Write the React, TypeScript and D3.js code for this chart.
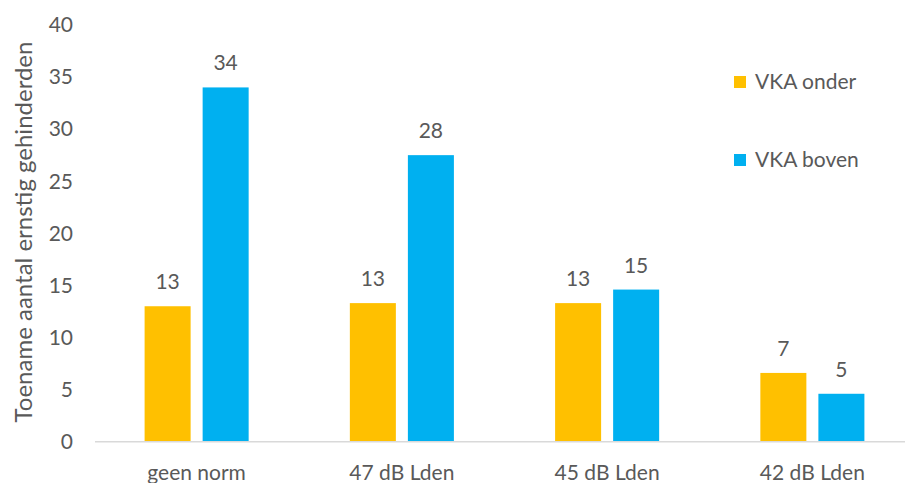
import React from "react";
import * as d3 from "d3";

const categories = ["geen norm", "47 dB Lden", "45 dB Lden", "42 dB Lden"];
const seriesNames = ["VKA onder", "VKA boven"];
const vkaOnder = [13.0, 13.3, 13.3, 6.6];
const vkaBoven = [34.0, 27.5, 14.6, 4.6];
const labelsOnder = ["13", "13", "13", "7"];
const labelsBoven = ["34", "28", "15", "5"];
const yTicks = [0, 5, 10, 15, 20, 25, 30, 35, 40];
const colors = ["#FFC000", "#00B0F0"];

const W = 905;
const H = 483;
const FONT = "Lato, 'Open Sans', sans-serif";
const TEXT = "#595959";

export default function App() {
  const x = d3.scaleBand<string>().domain(categories).range([94, 915]).paddingInner(0).paddingOuter(0);
  const y = d3.scaleLinear().domain([0, 40]).range([441.7, 24.9]);
  const inner = d3.scaleBand<string>().domain(seriesNames).range([0, x.bandwidth()]).paddingInner(0.207).paddingOuter(0.872);

  const series = [
    { name: seriesNames[0], values: vkaOnder, labels: labelsOnder, color: colors[0] },
    { name: seriesNames[1], values: vkaBoven, labels: labelsBoven, color: colors[1] },
  ];

  return (
    <svg width={W} height={H} style={{ position: "absolute", left: 0, top: 0, background: "#fff" }} fontFamily={FONT}>
      {/* y axis title */}
      <text
        transform={`translate(32, 232) rotate(-90)`}
        textAnchor="middle"
        fontSize={24}
        fill={TEXT}
      >
        Toename aantal ernstig gehinderden
      </text>
      {/* y tick labels */}
      {yTicks.map((t) => (
        <text key={t} x={73} y={y(t)} dy="0.35em" textAnchor="end" fontSize={21} fill={TEXT}>
          {t}
        </text>
      ))}
      {/* bars */}
      {series.map((s) =>
        categories.map((c, i) => {
          const bx = (x(c) as number) + (inner(s.name) as number);
          const by = y(s.values[i]);
          return (
            <g key={s.name + c}>
              <rect x={bx} y={by} width={inner.bandwidth()} height={y(0) - by} fill={s.color} />
              <text x={bx + inner.bandwidth() / 2} y={by - 17} textAnchor="middle" fontSize={21} fill={TEXT}>
                {s.labels[i]}
              </text>
            </g>
          );
        })
      )}
      {/* x axis line */}
      <line x1={95} x2={905} y1={y(0)} y2={y(0)} stroke="#D9D9D9" strokeWidth={1.5} />
      {/* category labels */}
      {categories.map((c) => (
        <text key={c} x={(x(c) as number) + x.bandwidth() / 2} y={480} textAnchor="middle" fontSize={21} fill={TEXT}>
          {c}
        </text>
      ))}
      {/* legend */}
      {series.map((s, i) => (
        <g key={s.name} transform={`translate(734, ${82 + i * 78})`}>
          <rect x={0} y={-6} width={12} height={12} fill={s.color} />
          <text x={21} y={0} dy="0.35em" fontSize={21} fill={TEXT}>
            {s.name}
          </text>
        </g>
      ))}
    </svg>
  );
}
